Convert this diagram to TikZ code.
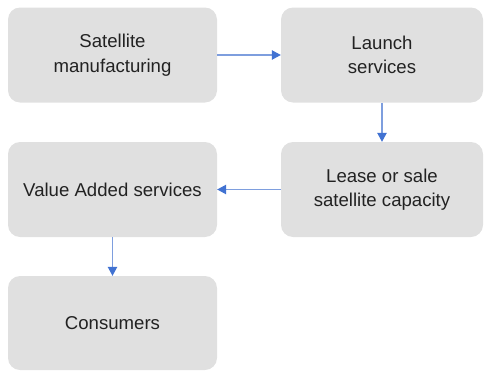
\documentclass[tikz,border=0pt]{standalone}
\usepackage{fontspec}
\setmainfont{Liberation Sans}
\usetikzlibrary{arrows.meta}
\definecolor{boxgray}{HTML}{E0E0E0}
\definecolor{flowline}{HTML}{7E9EDE}
\definecolor{flowhead}{HTML}{4172D2}
\definecolor{ink}{HTML}{222222}
\begin{document}
\begin{tikzpicture}[x=1pt,y=-1pt,
  stagebox/.style={fill=boxgray, draw=none, rounded corners=12pt,
    minimum width=209pt, minimum height=95pt, align=center,
    text=ink, font=\fontsize{18.6}{24.5}\selectfont, inner sep=0pt},
  flow/.style={draw=flowline, line width=1.1pt,
    -{Triangle[length=9pt,width=9.5pt,color=flowhead]}}]
  \useasboundingbox (0,0) rectangle (485,370);
  \node[stagebox] (mfg)   at (112.5,55)  {Satellite\\manufacturing};
  \node[stagebox, minimum width=202pt] (launch) at (382,55) {Launch\\services};
  \node[stagebox, minimum width=202pt] (lease)  at (382,189.5) {Lease or sale\\satellite capacity};
  \node[stagebox] (vas)   at (112.5,189.5) {Value Added services};
  \node[stagebox, minimum height=94pt] (cons) at (112.5,323) {Consumers};
  \draw[flow] (mfg.east) -- (launch.west);
  \draw[flow] (launch.south) -- (lease.north);
  \draw[flow] (lease.west) -- (vas.east);
  \draw[flow] (vas.south) -- (cons.north);
\end{tikzpicture}
\end{document}
